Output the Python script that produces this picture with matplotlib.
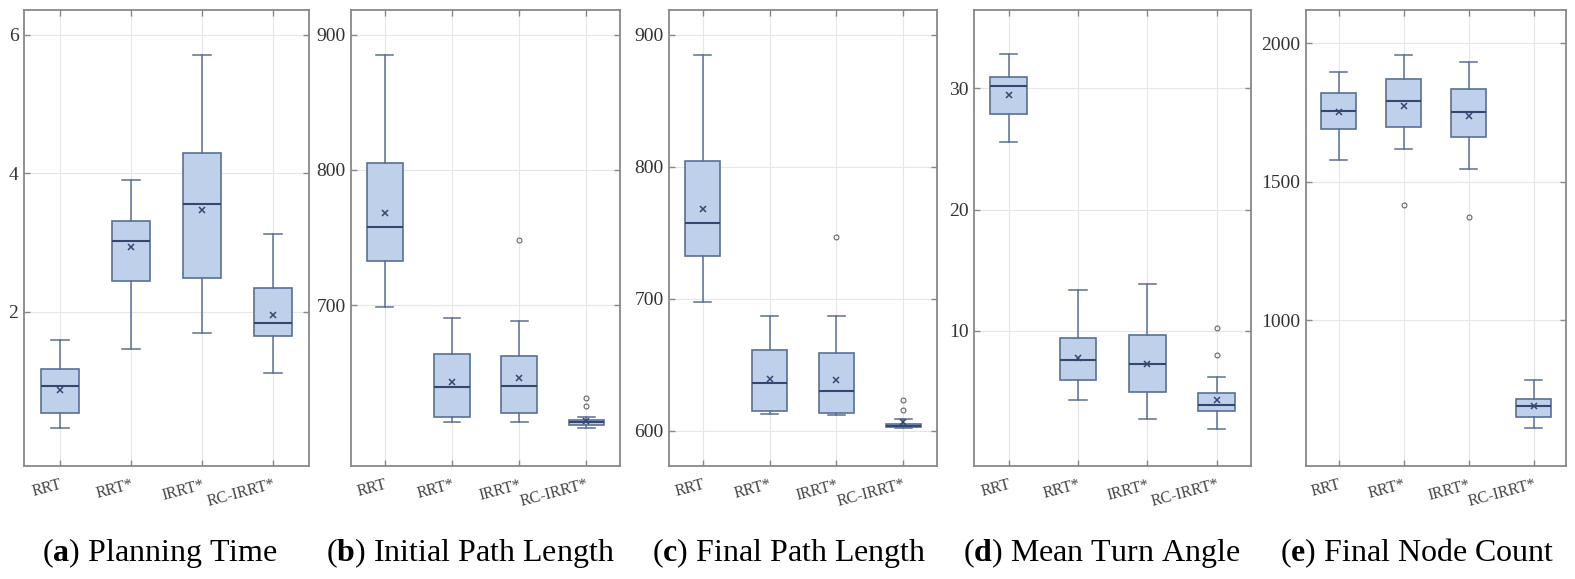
import matplotlib
matplotlib.use("Agg")
import matplotlib.pyplot as plt

plt.rcParams['font.family'] = ['Liberation Serif', 'DejaVu Serif']
plt.rcParams['mathtext.fontset'] = 'custom'
plt.rcParams['mathtext.rm'] = 'Liberation Serif'
plt.rcParams['mathtext.bf'] = 'Liberation Serif:bold'

methods = ["RRT", "RRT*", "IRRT*", "RC-IRRT*"]

# (a) planning time
pt_lo = [0.32, 1.46, 1.70, 1.12]
pt_q1 = [0.535, 2.44, 2.485, 1.66]
pt_med = [0.93, 3.02, 3.555, 1.84]
pt_q3 = [1.17, 3.32, 4.29, 2.34]
pt_hi = [1.59, 3.90, 5.71, 3.12]
pt_mean = [0.88, 2.94, 3.475, 1.96]
pt_out = [[], [], [], []]

# (b) initial path length
ip_lo = [698.6, 613.8, 613.8, 609.1]
ip_q1 = [732.5, 617.1, 620.0, 611.6]
ip_med = [757.6, 639.4, 640.0, 613.8]
ip_q3 = [804.8, 663.7, 662.6, 615.1]
ip_hi = [885.3, 690.2, 688.5, 617.6]
ip_mean = [768.5, 643.0, 646.0, 614.6]
ip_out = [[], [], [748.3], [631.2, 625.2]]

# (c) final path length
fp_lo = [698.0, 612.8, 612.0, 602.2]
fp_q1 = [732.1, 615.4, 613.7, 602.8]
fp_med = [757.3, 636.3, 630.4, 603.6]
fp_q3 = [804.2, 661.2, 659.0, 605.6]
fp_hi = [884.9, 687.2, 687.4, 608.7]
fp_mean = [768.2, 639.7, 638.3, 606.5]
fp_out = [[], [], [746.6], [623.2, 616.0]]

# (d) mean turn angle
ta_lo = [25.56, 4.31, 2.75, 1.96]
ta_q1 = [27.9, 5.98, 4.95, 3.42]
ta_med = [30.15, 7.63, 7.26, 3.94]
ta_q3 = [30.94, 9.42, 9.63, 4.92]
ta_hi = [32.8, 13.38, 13.84, 6.23]
ta_mean = [29.48, 7.81, 7.32, 4.34]
ta_out = [[], [], [], [10.21, 8.02]]

# (e) final node count
nc_lo = [1579, 1620, 1548, 611]
nc_q1 = [1692, 1697, 1664, 651]
nc_med = [1757, 1793, 1753, 692]
nc_q3 = [1823, 1871, 1836, 715]
nc_hi = [1897, 1960, 1932, 785]
nc_mean = [1753, 1776, 1737, 692]
nc_out = [[], [1415], [1375], []]

panels = [
    ("a", "Planning Time", pt_lo, pt_q1, pt_med, pt_q3, pt_hi, pt_mean, pt_out,
     (-0.22, 6.36), [2, 4, 6]),
    ("b", "Initial Path Length", ip_lo, ip_q1, ip_med, ip_q3, ip_hi, ip_mean, ip_out,
     (581.3, 918.3), [700, 800, 900]),
    ("c", "Final Path Length", fp_lo, fp_q1, fp_med, fp_q3, fp_hi, fp_mean, fp_out,
     (573.7, 918.7), [600, 700, 800, 900]),
    ("d", "Mean Turn Angle", ta_lo, ta_q1, ta_med, ta_q3, ta_hi, ta_mean, ta_out,
     (-1.1, 36.45), [10, 20, 30]),
    ("e", "Final Node Count", nc_lo, nc_q1, nc_med, nc_q3, nc_hi, nc_mean, nc_out,
     (475, 2121), [1000, 1500, 2000]),
]

# axes placement in pixels (left, right) and caption centres
W, H = 1575, 579
ax_lr = [(24, 309), (351.3, 620), (669.3, 936.7), (974, 1251.3), (1306, 1566)]
cap_x = [160, 470, 789, 1102, 1417]
ax_top, ax_bot = 10, 465.7

fill = '#bfd0ea'
edge = '#5a6f96'
dark = '#34486f'
spine_c = '#888888'

fig = plt.figure(figsize=(W / 100, H / 100), dpi=100)

for i, (letter, name, lo, q1, med, q3, hi, mean, out, ylim, yt) in enumerate(panels):
    l, r = ax_lr[i]
    ax = fig.add_axes([l / W, 1 - ax_bot / H, (r - l) / W, (ax_bot - ax_top) / H])
    stats = []
    for k in range(len(methods)):
        stats.append(dict(whislo=lo[k], q1=q1[k], med=med[k], q3=q3[k],
                          whishi=hi[k], mean=mean[k], fliers=out[k]))
    ax.bxp(stats, positions=range(1, 5), widths=0.53, capwidths=0.25,
           patch_artist=True, showmeans=True,
           boxprops=dict(facecolor=fill, edgecolor=edge, linewidth=1.2),
           whiskerprops=dict(color=edge, linewidth=1.1),
           capprops=dict(color=edge, linewidth=1.1),
           medianprops=dict(color=dark, linewidth=1.5),
           meanprops=dict(marker='x', markeredgecolor=dark, markersize=5,
                          markeredgewidth=1.1),
           flierprops=dict(marker='o', markerfacecolor='none', markeredgecolor='#666666',
                           markersize=3.5, markeredgewidth=0.8))
    ax.set_xlim(0.5, 4.5)
    ax.set_ylim(*ylim)
    ax.set_yticks(yt)
    ax.set_xticks(range(1, 5))
    ax.set_xticklabels(methods, rotation=15, ha='right', rotation_mode='anchor',
                       fontsize=11.5, color='#444444')
    ax.tick_params(axis='y', labelsize=14, labelcolor='#333333', pad=4)
    ax.tick_params(axis='x', pad=8)
    ax.tick_params(direction='in', length=4, width=1, color=spine_c,
                   top=True, right=True)
    ax.grid(True, color='#e6e6e6', linewidth=0.8)
    ax.set_axisbelow(True)
    for s in ax.spines.values():
        s.set_color(spine_c)
        s.set_linewidth(1.3)
    fig.text(cap_x[i] / W, 1 - 553 / H, r"($\mathbf{" + letter + r"}$) " + name,
             ha='center', va='center', fontsize=23, color='black')

fig.savefig("out.png", dpi=100)
